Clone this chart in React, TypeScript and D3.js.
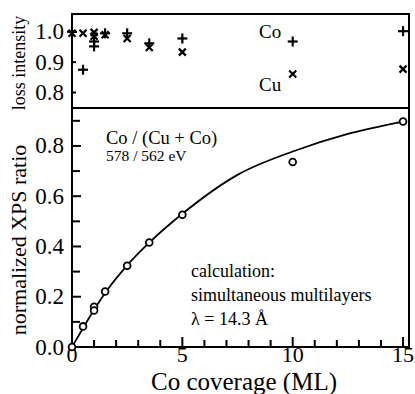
import React from 'react';
import * as d3 from 'd3';

// Co coverage (ML) for each measurement
const coverage = [0, 0.5, 1, 1, 1.5, 2.5, 3.5, 5, 10, 15];
// normalized XPS ratio Co / (Cu + Co)
const xpsRatio = [0, 0.082, 0.16, 0.145, 0.221, 0.323, 0.416, 0.526, 0.736, 0.897];
// loss intensity, top panel
const coLoss = [1.0, 0.875, 0.968, 0.952, 0.995, 0.995, 0.962, 0.978, 0.968, 1.002];
const cuLoss = [0.995, 0.995, 0.998, 0.985, 0.99, 0.978, 0.948, 0.933, 0.861, 0.877];

// calculated curve (simultaneous multilayers)
const calcX = [0, 0.5, 1, 1.5, 2.5, 3.5, 5, 7.5, 10, 12.5, 15];
const calcY = [0, 0.075, 0.148, 0.215, 0.325, 0.415, 0.53, 0.685, 0.778, 0.848, 0.897];

const xTicks = [0, 5, 10, 15];
const xMinor = d3.range(1, 15);
const ratioTicks = [0, 0.2, 0.4, 0.6, 0.8];
const ratioMinor = [0.1, 0.3, 0.5, 0.7, 0.9];
const lossTicks = [0.8, 0.9, 1.0];

const FONT = "'Liberation Serif', 'Times New Roman', serif";

const App = () => {
  const width = 415;
  const height = 394;
  const left = 72;
  const right = 409;
  const top = 14;
  const mid = 108;
  const bottom = 347;

  const x = d3.scaleLinear().domain([0, 15.27]).range([left, right]);
  const yTop = d3.scaleLinear().domain([0.749, 1.0586]).range([mid, top]);
  const yBot = d3.scaleLinear().domain([0, 0.951]).range([bottom, mid]);

  const line = d3.line<number>()
    .x((d, i) => x(calcX[i]))
    .y(d => yBot(d))
    .curve(d3.curveMonotoneX);

  return (
    <svg width={width} height={height} style={{ position: 'absolute', left: 0, top: 0, background: '#fff' }}
      fontFamily={FONT}>
      {/* frames */}
      <rect x={left} y={top} width={right - left} height={bottom - top} fill="none" stroke="#000" strokeWidth={2} />
      <line x1={left} x2={right} y1={mid} y2={mid} stroke="#000" strokeWidth={2.2} />

      {/* x ticks */}
      {xTicks.map(t => (
        <g key={'xt' + t}>
          <line x1={x(t)} x2={x(t)} y1={bottom} y2={bottom - 10} stroke="#000" strokeWidth={2} />
          <text x={x(t)} y={362} textAnchor="middle" fontSize={22}>{t}</text>
        </g>
      ))}
      {xMinor.filter(t => t % 5 !== 0).map(t => (
        <line key={'xm' + t} x1={x(t)} x2={x(t)} y1={bottom} y2={bottom - 7} stroke="#000" strokeWidth={2} />
      ))}
      <text x={244} y={390} textAnchor="middle" fontSize={25}>Co coverage (ML)</text>

      {/* bottom y ticks */}
      {ratioTicks.map(t => (
        <g key={'rt' + t}>
          <line x1={left} x2={left + 9} y1={yBot(t)} y2={yBot(t)} stroke="#000" strokeWidth={2} />
          <text x={64} y={yBot(t) + 7.5} textAnchor="end" fontSize={23}>{t.toFixed(1)}</text>
        </g>
      ))}
      {ratioMinor.map(t => (
        <line key={'rm' + t} x1={left} x2={left + 8} y1={yBot(t)} y2={yBot(t)} stroke="#000" strokeWidth={2} />
      ))}
      <text transform={`translate(26,240) rotate(-90)`} textAnchor="middle" fontSize={22}>
        normalized XPS ratio
      </text>

      {/* top y ticks */}
      {lossTicks.map(t => (
        <g key={'lt' + t}>
          <line x1={left} x2={left + 4} y1={yTop(t)} y2={yTop(t)} stroke="#000" strokeWidth={2} />
          <text x={64} y={yTop(t) + 7.5} textAnchor="end" fontSize={23}>{t.toFixed(1)}</text>
        </g>
      ))}
      <text transform="translate(25,63) rotate(-90)" textAnchor="middle" fontSize={18}>loss intensity</text>

      {/* calculated curve */}
      <path d={line(calcY) || ''} fill="none" stroke="#000" strokeWidth={1.8} />

      {/* measured ratio */}
      {coverage.map((c, i) => (
        <circle key={'c' + i} cx={x(c)} cy={yBot(xpsRatio[i])} r={3.4} fill="#fff" stroke="#000" strokeWidth={1.8} />
      ))}

      {/* loss intensity markers */}
      {coverage.map((c, i) => {
        const px = x(c);
        const py = yTop(coLoss[i]);
        return (
          <g key={'co' + i} stroke="#000" strokeWidth={2.2}>
            <line x1={px - 5} x2={px + 5} y1={py} y2={py} />
            <line x1={px} x2={px} y1={py - 5} y2={py + 5} />
          </g>
        );
      })}
      {coverage.map((c, i) => {
        const px = x(c);
        const py = yTop(cuLoss[i]);
        return (
          <g key={'cu' + i} stroke="#000" strokeWidth={2.2}>
            <line x1={px - 3.5} x2={px + 3.5} y1={py - 3.5} y2={py + 3.5} />
            <line x1={px - 3.5} x2={px + 3.5} y1={py + 3.5} y2={py - 3.5} />
          </g>
        );
      })}

      {/* labels */}
      <text x={259} y={38} fontSize={19}>Co</text>
      <text x={259} y={91} fontSize={19}>Cu</text>
      <text x={106} y={144} fontSize={18.5}>Co / (Cu + Co)</text>
      <text x={106} y={161} fontSize={15.5}>578 / 562 eV</text>
      <text x={191} y={277} fontSize={18}>calculation:</text>
      <text x={191} y={301} fontSize={18}>simultaneous multilayers</text>
      <text x={191} y={325} fontSize={18}>λ = 14.3 Å</text>
    </svg>
  );
};

export default App;
